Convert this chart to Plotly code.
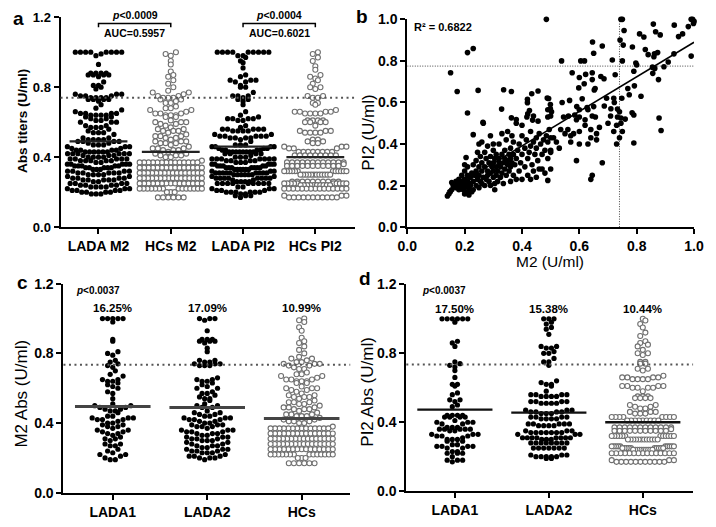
import numpy as np
import plotly.graph_objects as go

W, H = 716, 527
FONT = "Liberation Sans, Arial, Helvetica, sans-serif"

# ---------------- data: antibody titres (U/ml), value levels + number of subjects ----------------
lada1_m2_levels = [1.00, 0.98, 0.88, 0.87, 0.81, 0.80, 0.79, 0.76, 0.75, 0.74,
                   0.73, 0.72, 0.70, 0.68, 0.67, 0.65, 0.64, 0.63, 0.62, 0.61,
                   0.60, 0.58, 0.57, 0.54, 0.51, 0.50, 0.49, 0.48, 0.47, 0.46,
                   0.44, 0.43, 0.42, 0.41, 0.40, 0.39, 0.38, 0.37, 0.36, 0.35,
                   0.34, 0.33, 0.32, 0.31, 0.30, 0.28, 0.27, 0.25, 0.24, 0.23,
                   0.22, 0.21, 0.20, 0.19]
lada1_m2_counts = [5, 1, 1, 1, 1, 1, 1, 1, 1, 1,
                   1, 1, 1, 1, 1, 2, 2, 1, 1, 1,
                   1, 1, 1, 1, 1, 2, 2, 2, 2, 1,
                   2, 3, 3, 1, 2, 2, 2, 1, 2, 2,
                   2, 1, 1, 2, 1, 2, 2, 1, 1, 1,
                   2, 1, 1, 2]

lada2_m2_levels = [1.00, 0.99, 0.93, 0.88, 0.87, 0.86, 0.83, 0.81, 0.76, 0.75,
                   0.74, 0.73, 0.66, 0.65, 0.64, 0.63, 0.62, 0.61, 0.60, 0.58,
                   0.57, 0.56, 0.55, 0.54, 0.53, 0.51, 0.50, 0.49, 0.47, 0.46,
                   0.45, 0.44, 0.43, 0.42, 0.41, 0.40, 0.39, 0.38, 0.37, 0.36,
                   0.35, 0.34, 0.33, 0.32, 0.31, 0.30, 0.29, 0.28, 0.27, 0.26,
                   0.25, 0.24, 0.23, 0.22, 0.21, 0.20, 0.19]
lada2_m2_counts = [3, 1, 1, 3, 3, 1, 1, 1, 2, 2,
                   3, 3, 1, 2, 2, 1, 1, 1, 2, 1,
                   2, 1, 1, 2, 1, 1, 2, 2, 1, 2,
                   2, 2, 3, 3, 2, 2, 3, 3, 1, 3,
                   3, 3, 2, 3, 3, 3, 2, 2, 3, 2,
                   3, 3, 3, 1, 3, 3, 1]

hc_m2_levels = [1.00, 0.99, 0.98, 0.95, 0.93, 0.89, 0.87, 0.86, 0.84, 0.82,
                0.80, 0.78, 0.77, 0.76, 0.75, 0.74, 0.73, 0.72, 0.71, 0.69,
                0.68, 0.67, 0.66, 0.65, 0.64, 0.63, 0.61, 0.60, 0.59, 0.58,
                0.57, 0.56, 0.55, 0.54, 0.53, 0.52, 0.51, 0.50, 0.49, 0.48,
                0.47, 0.46, 0.45, 0.44, 0.43, 0.42, 0.41, 0.40, 0.38, 0.37,
                0.34, 0.31, 0.28, 0.25, 0.22, 0.20, 0.17]
hc_m2_counts = [1, 1, 1, 1, 1, 1, 1, 1, 1, 1,
                1, 1, 2, 1, 2, 3, 2, 1, 2, 1,
                2, 2, 1, 3, 3, 2, 1, 3, 2, 1,
                1, 2, 3, 1, 1, 3, 2, 1, 3, 3,
                1, 1, 3, 3, 1, 2, 3, 2, 1, 14,
                15, 16, 16, 15, 14, 3, 6]

lada1_pi2_levels = [1.00, 0.98, 0.87, 0.86, 0.84, 0.75, 0.74, 0.73, 0.72, 0.70,
                    0.66, 0.62, 0.61, 0.57, 0.56, 0.53, 0.52, 0.50, 0.49, 0.44,
                    0.43, 0.41, 0.40, 0.39, 0.37, 0.36, 0.35, 0.33, 0.32, 0.31,
                    0.30, 0.29, 0.27, 0.26, 0.25, 0.23, 0.22, 0.20, 0.18, 0.17]
lada1_pi2_counts = [6, 1, 1, 1, 1, 1, 1, 1, 1, 1,
                    1, 2, 1, 1, 1, 2, 1, 1, 1, 4,
                    4, 1, 3, 2, 3, 5, 2, 3, 3, 1,
                    3, 2, 2, 4, 2, 2, 3, 1, 3, 1]

lada2_pi2_levels = [1.00, 0.98, 0.97, 0.95, 0.94, 0.91, 0.84, 0.83, 0.81, 0.80,
                    0.77, 0.75, 0.73, 0.64, 0.63, 0.62, 0.61, 0.58, 0.56, 0.55,
                    0.52, 0.51, 0.47, 0.46, 0.45, 0.43, 0.42, 0.39, 0.38, 0.35,
                    0.34, 0.33, 0.31, 0.30, 0.28, 0.25, 0.21, 0.20, 0.19]
lada2_pi2_counts = [3, 1, 1, 1, 1, 1, 2, 2, 1, 2,
                    1, 2, 1, 1, 1, 2, 1, 1, 4, 4,
                    4, 4, 3, 4, 3, 4, 4, 5, 4, 3,
                    7, 3, 8, 3, 8, 7, 3, 5, 2]

hc_pi2_levels = [1.00, 0.99, 0.97, 0.95, 0.92, 0.90, 0.87, 0.86, 0.85, 0.84,
                 0.82, 0.80, 0.79, 0.75, 0.74, 0.71, 0.70, 0.67, 0.66, 0.65,
                 0.61, 0.60, 0.58, 0.55, 0.54, 0.50, 0.49, 0.48, 0.46, 0.45,
                 0.43, 0.41, 0.37, 0.36, 0.35, 0.32, 0.30, 0.26, 0.25, 0.24,
                 0.22, 0.18, 0.17]
hc_pi2_counts = [1, 1, 1, 1, 1, 1, 1, 1, 1, 1,
                 1, 2, 1, 2, 2, 2, 1, 1, 4, 4,
                 4, 4, 1, 3, 4, 2, 2, 2, 3, 3,
                 8, 9, 12, 1, 11, 12, 12, 10, 10, 10,
                 15, 3, 11]

# group centre lines (U/ml)
a_means = [0.49, 0.43, 0.46, 0.40]
c_means = [0.495, 0.49, 0.426]
d_means = [0.473, 0.456, 0.40]

# cut-offs
a_cut = 0.74
c_cut = 0.735
d_cut = 0.735
b_cut_m2 = 0.74
b_cut_pi2 = 0.775

a_categories = ["LADA M2", "HCs M2", "LADA PI2", "HCs PI2"]
cd_categories = ["LADA1", "LADA2", "HCs"]
c_percents = ["16.25%", "17.09%", "10.99%"]
d_percents = ["17.50%", "15.38%", "10.44%"]
a_tests = [("p", "0.0009", "AUC=0.5957"), ("p", "0.0004", "AUC=0.6021")]
cd_p = "0.0037"

# ---------------- panel b: M2 vs PI2 per subject (U/ml) ----------------
b_upper = [(0.485, 1.0), (0.745, 1.0), (0.75, 1.0), (0.995, 1.0), (1.0, 0.99), (0.998, 0.98), (0.99, 1.0),
           (0.858, 0.977), (0.931, 0.972), (0.98, 0.965), (0.756, 0.946), (0.866, 0.94), (0.882, 0.925),
           (0.81, 0.93), (0.825, 0.915), (0.96, 0.93), (0.946, 0.917), (0.742, 0.90), (0.753, 0.876),
           (0.646, 0.891), (0.68, 0.872), (0.785, 0.867), (0.65, 0.837), (0.83, 0.855), (0.84, 0.83),
           (0.862, 0.834), (0.873, 0.84), (0.86, 0.82), (0.93, 0.834), (0.99, 0.823),
           (0.538, 0.80), (0.605, 0.80), (0.618, 0.80), (0.715, 0.804), (0.75, 0.80), (0.80, 0.78),
           (0.797, 0.79), (0.855, 0.77), (0.863, 0.764), (0.91, 0.795), (0.895, 0.772), (0.79, 0.75),
           (0.856, 0.74), (0.876, 0.71),
           (0.575, 0.743), (0.60, 0.72), (0.622, 0.735), (0.645, 0.743), (0.645, 0.71), (0.675, 0.725),
           (0.686, 0.714), (0.725, 0.733), (0.598, 0.67), (0.617, 0.69), (0.652, 0.66), (0.655, 0.667),
           (0.493, 0.619), (0.499, 0.59), (0.54, 0.60), (0.566, 0.61), (0.61, 0.618), (0.695, 0.62),
           (0.72, 0.62), (0.722, 0.60), (0.748, 0.62), (0.769, 0.667), (0.792, 0.68), (0.774, 0.637),
           (0.815, 0.63),
           (0.499, 0.57), (0.503, 0.555), (0.591, 0.58), (0.60, 0.565), (0.627, 0.575), (0.63, 0.565),
           (0.65, 0.58), (0.687, 0.583), (0.71, 0.57), (0.733, 0.568), (0.74, 0.555), (0.784, 0.55),
           (0.50, 0.535), (0.545, 0.53), (0.562, 0.535), (0.584, 0.54), (0.60, 0.53), (0.645, 0.535),
           (0.656, 0.53), (0.709, 0.535), (0.733, 0.53), (0.745, 0.525), (0.878, 0.525), (0.59, 0.517),
           (0.62, 0.517)]
b_left = [(0.151, 0.743), (0.174, 0.653), (0.247, 0.658), (0.336, 0.661), (0.363, 0.653), (0.456, 0.655),
          (0.434, 0.642), (0.419, 0.615), (0.419, 0.599), (0.488, 0.621), (0.426, 0.561), (0.329, 0.568),
          (0.21, 0.549), (0.264, 0.505), (0.363, 0.526), (0.38, 0.518), (0.417, 0.53), (0.42, 0.545),
          (0.44, 0.535), (0.437, 0.515), (0.456, 0.51), (0.49, 0.565), (0.49, 0.53), (0.21, 0.84),
          (0.23, 0.86)]
b_dense = [(0.14, 0.15), (0.145, 0.16), (0.15, 0.17), (0.155, 0.18), (0.155, 0.215), (0.16, 0.2),
           (0.17, 0.19), (0.17, 0.22), (0.175, 0.2), (0.18, 0.18), (0.18, 0.21), (0.18, 0.23),
           (0.185, 0.19), (0.19, 0.2), (0.19, 0.22), (0.19, 0.25), (0.195, 0.18), (0.195, 0.21),
           (0.2, 0.16), (0.2, 0.19), (0.2, 0.23), (0.2, 0.27), (0.2, 0.3), (0.205, 0.335), (0.205, 0.2),
           (0.21, 0.17), (0.21, 0.22), (0.21, 0.25), (0.21, 0.29), (0.215, 0.155), (0.215, 0.19),
           (0.22, 0.2), (0.22, 0.24), (0.22, 0.21), (0.225, 0.17), (0.225, 0.26),
           (0.23, 0.18), (0.23, 0.22), (0.23, 0.3), (0.23, 0.445), (0.235, 0.25), (0.24, 0.2), (0.24, 0.27),
           (0.24, 0.32), (0.245, 0.23), (0.245, 0.36), (0.25, 0.19), (0.25, 0.25), (0.25, 0.29), (0.25, 0.4),
           (0.255, 0.22), (0.255, 0.34), (0.26, 0.21), (0.26, 0.27), (0.26, 0.31), (0.26, 0.41),
           (0.265, 0.5), (0.265, 0.24), (0.27, 0.2), (0.27, 0.29), (0.27, 0.36), (0.275, 0.23),
           (0.275, 0.33), (0.28, 0.25), (0.28, 0.27), (0.28, 0.39), (0.285, 0.22), (0.285, 0.31),
           (0.29, 0.2), (0.29, 0.26), (0.29, 0.34), (0.29, 0.44), (0.295, 0.29), (0.3, 0.24), (0.3, 0.27),
           (0.3, 0.31), (0.3, 0.37), (0.3, 0.4), (0.305, 0.18), (0.305, 0.21), (0.305, 0.33),
           (0.31, 0.25), (0.31, 0.29), (0.31, 0.35), (0.315, 0.22), (0.315, 0.27), (0.32, 0.31),
           (0.32, 0.33), (0.32, 0.4), (0.325, 0.24), (0.325, 0.29), (0.33, 0.26), (0.33, 0.35), (0.33, 0.45),
           (0.335, 0.21), (0.335, 0.31), (0.34, 0.28), (0.34, 0.37), (0.34, 0.33), (0.345, 0.25),
           (0.345, 0.42), (0.35, 0.3), (0.35, 0.32), (0.35, 0.46), (0.355, 0.27), (0.355, 0.35),
           (0.36, 0.22), (0.36, 0.29), (0.36, 0.33), (0.36, 0.38), (0.365, 0.31), (0.365, 0.44),
           (0.37, 0.25), (0.37, 0.35), (0.37, 0.41), (0.375, 0.3), (0.38, 0.23), (0.38, 0.33), (0.38, 0.5),
           (0.385, 0.37), (0.39, 0.27), (0.39, 0.4), (0.395, 0.31), (0.4, 0.23), (0.4, 0.35), (0.4, 0.44),
           (0.4, 0.49),
           (0.41, 0.29), (0.41, 0.38), (0.415, 0.42), (0.42, 0.33), (0.42, 0.25), (0.425, 0.36),
           (0.43, 0.23), (0.43, 0.39), (0.43, 0.46), (0.435, 0.3), (0.44, 0.27), (0.44, 0.41),
           (0.445, 0.35), (0.45, 0.24), (0.45, 0.38), (0.45, 0.43), (0.455, 0.32), (0.46, 0.28),
           (0.46, 0.45), (0.465, 0.4), (0.47, 0.28), (0.47, 0.35), (0.475, 0.42), (0.48, 0.26),
           (0.48, 0.37), (0.485, 0.44), (0.49, 0.225), (0.49, 0.33), (0.49, 0.41), (0.495, 0.47),
           (0.5, 0.28), (0.5, 0.36), (0.5, 0.43)]
b_lowright = [(0.59, 0.32), (0.64, 0.23), (0.645, 0.25), (0.68, 0.31), (0.63, 0.40), (0.60, 0.40),
              (0.57, 0.44), (0.55, 0.45), (0.53, 0.38), (0.56, 0.47), (0.60, 0.46), (0.62, 0.49),
              (0.64, 0.47), (0.66, 0.42), (0.72, 0.46), (0.73, 0.40), (0.74, 0.43), (0.75, 0.46),
              (0.745, 0.50), (0.73, 0.49), (0.79, 0.405), (0.76, 0.52), (0.79, 0.54), (0.885, 0.465),
              (0.67, 0.48), (0.70, 0.50), (0.51, 0.43), (0.50, 0.37), (0.52, 0.41), (0.57, 0.41),
              (0.58, 0.45), (0.64, 0.43), (0.66, 0.45), (0.535, 0.47)]
b_fit_slope = 0.832
b_fit_intercept = 0.058
b_fit_xrange = [0.14, 1.0]
b_r2 = "R² = 0.6822"

# ---------------- layout geometry (pixels) ----------------
P = {
    "a": dict(x0=52, x1=355, ytop=9.5, ybot=226, xr=[0.475, 4.55], yr=[0, 1.2]),
    "b": dict(x0=408.7, x1=703.7, ytop=11.7, ybot=226, xr=[0, 1.0], yr=[0, 1.0]),
    "c": dict(x0=55, x1=350, ytop=284.3, ybot=500, xr=[0.478, 3.514], yr=[0, 1.2]),
    "d": dict(x0=407.7, x1=702.7, ytop=285, ybot=498.3, xr=[0.483, 3.535], yr=[0, 1.2]),
}
for k, p in P.items():
    p["xs"] = (p["x1"] - p["x0"]) / (p["xr"][1] - p["xr"][0])
    p["ys"] = (p["ybot"] - p["ytop"]) / (p["yr"][1] - p["yr"][0])

AX = {"a": ("x", "y"), "b": ("x2", "y2"), "c": ("x3", "y3"), "d": ("x4", "y4")}


def expand(levels, counts):
    return np.repeat(np.asarray(levels, float), np.asarray(counts, int))


def dotplot_x(values, center, p, row_h=6.2, step=5.3, maxw=62):
    """GraphPad-like scatter dot layout: bin rows, spread horizontally, lowest value in the middle."""
    v = np.asarray(values, float)
    rows = np.floor(v * p["ys"] / row_h + 0.5).astype(int)
    xs = np.full(len(v), float(center))
    for r in np.unique(rows):
        idx = np.where(rows == r)[0]
        idx = idx[np.argsort(v[idx], kind="stable")]
        n = len(idx)
        if n == 1:
            continue
        s = min(step, maxw / (n - 1))
        slots = sorted([(k - (n - 1) / 2) * s for k in range(n)], key=lambda t: (abs(t), t))
        for j, i in enumerate(idx):
            xs[i] = center + slots[j] / p["xs"]
    return xs


lada1_m2 = expand(lada1_m2_levels, lada1_m2_counts)
lada2_m2 = expand(lada2_m2_levels, lada2_m2_counts)
hc_m2 = expand(hc_m2_levels, hc_m2_counts)
lada1_pi2 = expand(lada1_pi2_levels, lada1_pi2_counts)
lada2_pi2 = expand(lada2_pi2_levels, lada2_pi2_counts)
hc_pi2 = expand(hc_pi2_levels, hc_pi2_counts)

FILLED = dict(size=5.2, color="black")
OPEN = dict(size=5.0, color="white", line=dict(color="#6f6f6f", width=1.1))

fig = go.Figure()


def add_group(panel, center, vals, filled, maxw):
    xa, ya = AX[panel]
    xs = dotplot_x(vals, center, P[panel], maxw=maxw)
    fig.add_trace(go.Scatter(x=xs, y=vals, mode="markers", marker=FILLED if filled else OPEN,
                             xaxis=xa, yaxis=ya, cliponaxis=False, hoverinfo="skip", showlegend=False))


# panel a
a_groups = [np.concatenate([lada1_m2, lada2_m2]), hc_m2,
            np.concatenate([lada1_pi2, lada2_pi2]), hc_pi2]
for i, vals in enumerate(a_groups):
    add_group("a", i + 1, vals, i % 2 == 0, 64)
# panel c / d
for i, vals in enumerate([lada1_m2, lada2_m2, hc_m2]):
    add_group("c", i + 1, vals, i < 2, 64)
for i, vals in enumerate([lada1_pi2, lada2_pi2, hc_pi2]):
    add_group("d", i + 1, vals, i < 2, 64)

# panel b scatter
b_all = b_upper + b_left + b_dense + b_lowright
bx = [t[0] for t in b_all]
by = [t[1] for t in b_all]
fig.add_trace(go.Scatter(x=bx, y=by, mode="markers", marker=dict(size=5.6, color="black"),
                         xaxis="x2", yaxis="y2", cliponaxis=False, hoverinfo="skip", showlegend=False))
fx = np.array(b_fit_xrange)
fig.add_trace(go.Scatter(x=fx, y=b_fit_intercept + b_fit_slope * fx, mode="lines",
                         line=dict(color="black", width=1.6), xaxis="x2", yaxis="y2",
                         hoverinfo="skip", showlegend=False))

shapes = []
annotations = []


def data_to_paper(panel, xv, yv):
    p = P[panel]
    px = p["x0"] + (xv - p["xr"][0]) * p["xs"]
    py = p["ybot"] - (yv - p["yr"][0]) * p["ys"]
    return px / W, 1 - py / H


# centre lines
for panel, means, col, wid in [("a", a_means, "#222", 2.4), ("c", c_means, "#444", 3), ("d", d_means, "#111", 2.4)]:
    xa, ya = AX[panel]
    for i, m in enumerate(means):
        shapes.append(dict(type="line", xref=xa, yref=ya, x0=i + 1 - 0.4, x1=i + 1 + 0.4, y0=m, y1=m,
                           line=dict(color=col, width=wid), layer="above"))

# dotted cut-off lines
for panel, cut in [("a", a_cut), ("c", c_cut), ("d", d_cut)]:
    xa, ya = AX[panel]
    shapes.append(dict(type="line", xref=xa + " domain", yref=ya, x0=0, x1=1, y0=cut, y1=cut,
                       line=dict(color="#555", width=2, dash="2px,3.5px"), layer="above"))
shapes.append(dict(type="line", xref="x2", yref="y2", x0=b_cut_m2, x1=b_cut_m2, y0=0, y1=1,
                   line=dict(color="#444", width=1, dash="1px,1.5px"), layer="below"))
shapes.append(dict(type="line", xref="x2", yref="y2", x0=0, x1=1, y0=b_cut_pi2, y1=b_cut_pi2,
                   line=dict(color="#444", width=1, dash="1px,1.5px"), layer="below"))

# panel a brackets and stats
for k, (pl, pv, auc) in enumerate(a_tests):
    x0, x1 = 2 * k + 1, 2 * k + 2
    shapes.append(dict(type="path", xref="x", yref="y",
                       path=f"M {x0},1.142 L {x0},1.164 L {x1},1.164 L {x1},1.142",
                       line=dict(color="black", width=1.5)))
    qx, qy = data_to_paper("a", (x0 + x1) / 2, 1.212)
    annotations.append(dict(xref="paper", yref="paper", x=qx, y=qy, showarrow=False,
                            xanchor="center", yanchor="middle",
                            text=f"<i>{pl}</i>&lt;{pv}",
                            font=dict(family=FONT, size=10.5, color="black", weight="bold")))
    annotations.append(dict(xref="x", yref="y", x=(x0 + x1) / 2, y=1.109, showarrow=False,
                            xanchor="center", yanchor="middle",
                            text=auc, font=dict(family=FONT, size=10.5, color="black", weight="bold")))

# panels c/d stats
for panel, pcts, px_, py_ in [("c", c_percents, 0.84, 1.16), ("d", d_percents, 0.88, 1.162)]:
    xa, ya = AX[panel]
    annotations.append(dict(xref=xa, yref=ya, x=px_, y=py_, showarrow=False,
                            xanchor="center", yanchor="middle",
                            text=f"<i>p</i>&lt;{cd_p}",
                            font=dict(family=FONT, size=10, color="black", weight="bold")))
    for i, t in enumerate(pcts):
        annotations.append(dict(xref=xa, yref=ya, x=i + 1, y=1.058, showarrow=False, text=t,
                                xanchor="center", yanchor="middle",
                                font=dict(family=FONT, size=11.5, color="black", weight="bold")))

annotations.append(dict(xref="paper", yref="paper", x=414 / W, y=1 - 20 / H, xanchor="left",
                        yanchor="middle", showarrow=False, text=b_r2,
                        font=dict(family=FONT, size=11, color="black", weight="bold")))


def ptxt(text, x, y, size, bold=True, angle=0):
    annotations.append(dict(xref="paper", yref="paper", x=x / W, y=1 - y / H, showarrow=False,
                            text=text, textangle=angle, xanchor="center", yanchor="middle",
                            font=dict(family=FONT, size=size, color="black",
                                      weight="bold" if bold else "normal")))


# panel letters
ptxt("a", 9, 11, 19)
ptxt("b", 362, 9, 19)
ptxt("c", 13, 283, 19)
ptxt("d", 365, 279, 19)
# axis titles
ptxt("Abs titers (U/ml)", 13, 117, 13.5, True, -90)
ptxt("PI2 (U/ml)", 368, 128, 17, False, -90)
ptxt("M2 (U/ml)", 556, 261, 15.5, False)
ptxt("M2 Abs (U/ml)", 12, 398, 17, False, -90)
ptxt("PI2 Abs (U/ml)", 368, 396, 17, False, -90)

layout = dict(width=W, height=H, margin=dict(l=0, r=0, t=0, b=0), paper_bgcolor="white",
              plot_bgcolor="white", showlegend=False, shapes=shapes, annotations=annotations)


def axis_common(size):
    return dict(showline=True, linecolor="black", linewidth=2, ticks="outside", ticklen=5, tickwidth=2,
                tickcolor="black", showgrid=False, zeroline=False, fixedrange=True,
                tickfont=dict(family=FONT, size=size, color="black", weight="bold"))


names = {"a": ("xaxis", "yaxis"), "b": ("xaxis2", "yaxis2"), "c": ("xaxis3", "yaxis3"), "d": ("xaxis4", "yaxis4")}
for panel, (xn, yn) in names.items():
    p = P[panel]
    xa, ya = AX[panel]
    xd = [p["x0"] / W, p["x1"] / W]
    yd = [1 - p["ybot"] / H, 1 - p["ytop"] / H]
    xcfg = axis_common(14)
    ycfg = axis_common(13 if panel == "a" else 14)
    xcfg.update(domain=xd, range=p["xr"], anchor=ya)
    ycfg.update(domain=yd, range=p["yr"], anchor=xa, tickformat=".1f")
    if panel == "b":
        xcfg.update(tickvals=[0, 0.2, 0.4, 0.6, 0.8, 1.0], tickformat=".1f")
        ycfg.update(tickvals=[0, 0.2, 0.4, 0.6, 0.8, 1.0])
    else:
        cats = a_categories if panel == "a" else cd_categories
        xcfg.update(tickvals=list(range(1, len(cats) + 1)), ticktext=cats)
        ycfg.update(tickvals=[0, 0.4, 0.8, 1.2])
    layout[xn] = xcfg
    layout[yn] = ycfg

fig.update_layout(**layout)
fig.write_html("out.html", config={"displayModeBar": False},
               post_script="document.body.style.margin='0';document.body.style.overflow='hidden';")
